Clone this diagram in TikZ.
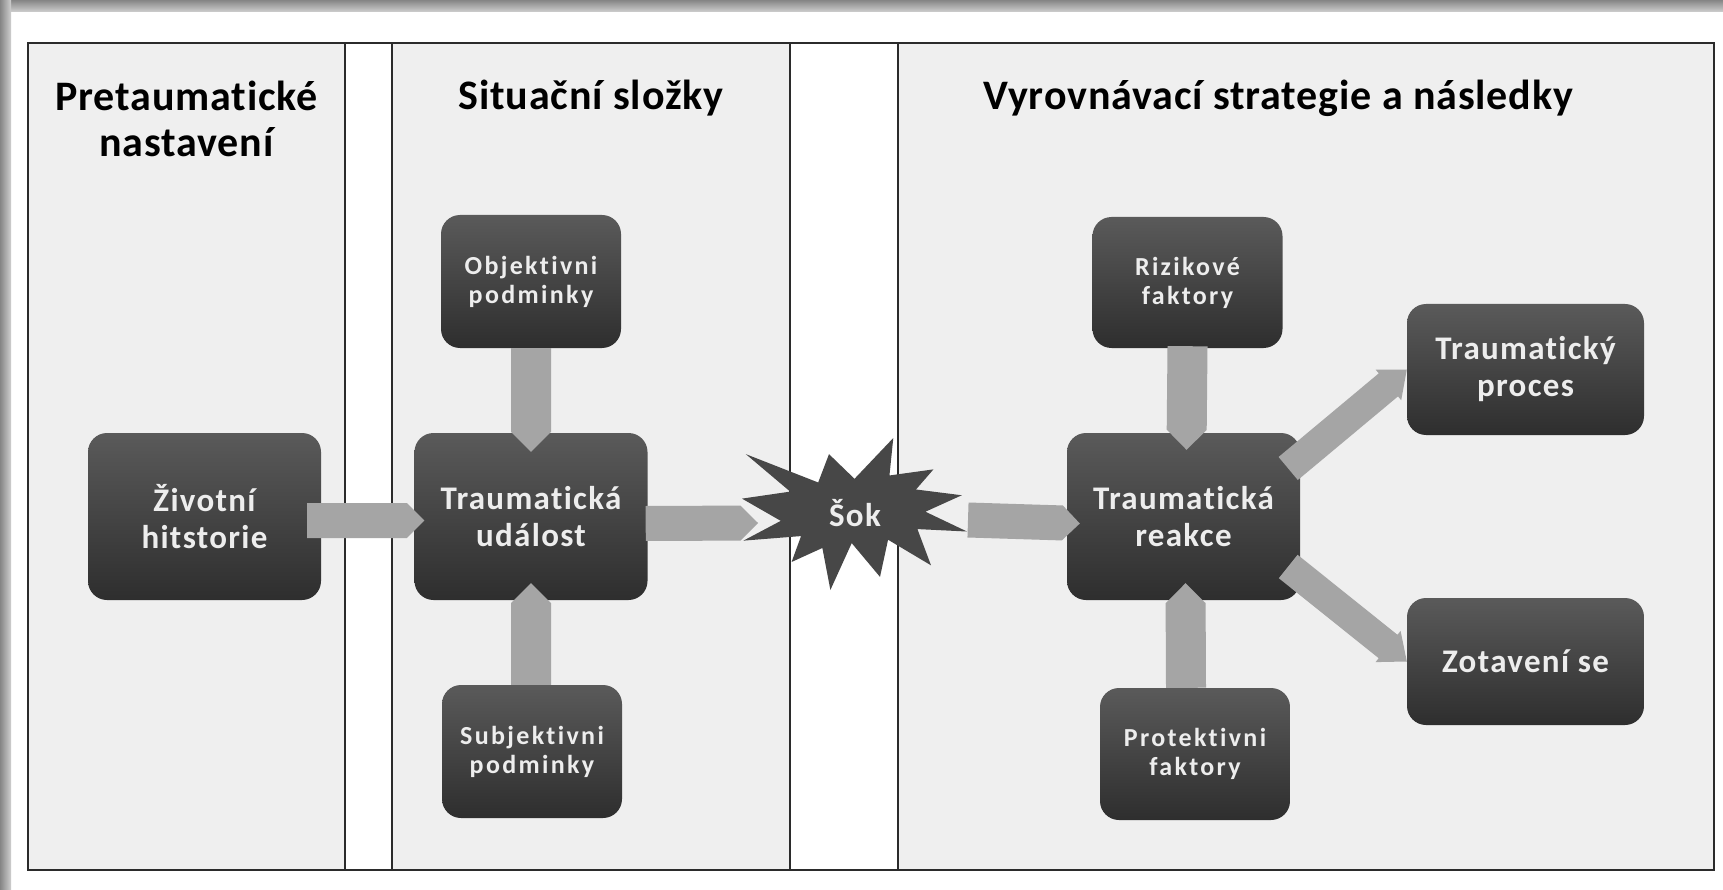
\documentclass[tikz,border=0pt]{standalone}
\usepackage{fontspec}
\setmainfont[Ligatures=NoCommon, LetterSpace=2]{Carlito}
\newfontfamily\bigfont[Ligatures=NoCommon, LetterSpace=4]{Carlito}
\newfontfamily\smallfont[Ligatures=NoCommon, LetterSpace=9]{Carlito}
\usetikzlibrary{calc}
\definecolor{panel}{HTML}{EFEFEF}
\definecolor{frameline}{HTML}{2B2B2B}
\definecolor{boxtop}{HTML}{5A5A5A}
\definecolor{boxbot}{HTML}{2E2E2E}
\definecolor{boxtext}{HTML}{EDEDED}
\definecolor{arrowfill}{HTML}{A5A5A5}
\definecolor{starfill}{HTML}{474747}
\definecolor{shadowdark}{HTML}{858585}
\definecolor{shadowlight}{HTML}{CFCFCF}
\tikzset{
  dbox/.style={rounded corners=19pt, top color=boxtop, bottom color=boxbot, text=boxtext, align=center, inner sep=0pt},
  bigbox/.style={dbox, minimum width=233pt, minimum height=167pt, font=\bigfont\bfseries\fontsize{33}{37}\selectfont},
  smallbox/.style={dbox, minimum width=180pt, minimum height=133pt, font=\smallfont\bfseries\fontsize{26}{29}\selectfont},
  header/.style={font=\bfseries\fontsize{42}{46}\selectfont, align=center, text=black},
  framestroke/.style={draw=frameline, line width=2pt},
}
% block arrow: [half width]{start}{tip}
\newcommand{\barrow}[3][18]{%
  \path ($(#3)!#1pt!(#2)$) coordinate (bh);
  \fill[arrowfill] ($(#2)!#1pt!90:(#3)$) -- ($(bh)!#1pt!90:(#3)$) -- (#3)
    -- ($(bh)!#1pt!-90:(#3)$) -- ($(#2)!#1pt!-90:(#3)$) -- cycle;
}
% flared block arrow: {shaft half width}{head half width}{start}{tip}
\newcommand{\farrow}[4]{%
  \path ($(#4)!24pt!(#3)$) coordinate (bh);
  \fill[arrowfill] ($(#3)!#1pt!90:(#4)$) -- ($(bh)!#1pt!90:(#4)$) -- ($(bh)!#2pt!90:(#4)$) -- (#4)
    -- ($(bh)!#2pt!-90:(#4)$) -- ($(bh)!#1pt!-90:(#4)$) -- ($(#3)!#1pt!-90:(#4)$) -- cycle;
}
\begin{document}
\begin{tikzpicture}[x=1pt,y=-1pt]
\useasboundingbox (0,0) rectangle (1723,890);
\fill[white] (0,0) rectangle (1723,890);
\shade[top color=shadowdark, bottom color=shadowlight] (0,0) rectangle (1723,12);
\shade[left color=shadowdark, right color=shadowlight] (0,0) rectangle (11,890);
% panels
\fill[panel] (28,43) rectangle (345,870);
\fill[panel] (392,43) rectangle (790,870);
\fill[panel] (898,43) rectangle (1714,870);
\draw[framestroke] (28,43) rectangle (1714,870);
\foreach \xx in {345,392,790,898} \draw[framestroke] (\xx,43) -- (\xx,870);
% headers
\node[header] (h1) at (186.5,119) {Pretaumatické\\nastavení};
\node[header] (h2) at (591,98) {Situační složky};
\node[header] (h3) at (1278,98) {Vyrovnávací strategie a následky};
% boxes
\node[bigbox] (ziv) at (204.5,516.5) {Životní\\hitstorie};
\node[bigbox] (udal) at (531,516.5) {Traumatická\\událost};
\node[smallbox] (obj) at (531,281.5) {Objektivni\\podminky};
\node[smallbox] (subj) at (532,751.5) {Subjektivni\\podminky};
\node[bigbox] (reak) at (1183.5,516.5) {Traumatická\\reakce};
\node[smallbox, minimum width=190pt, minimum height=131pt] (riz) at (1187.5,282.5) {Rizikové\\faktory};
\node[smallbox, minimum width=190pt, minimum height=132pt] (prot) at (1195,754) {Protektivni\\faktory};
\node[bigbox, minimum width=237pt, minimum height=131pt] (proc) at (1525.5,369.5) {Traumatický\\proces};
\node[bigbox, minimum width=237pt, minimum height=127pt] (zot) at (1525.5,661.5) {Zotavení se};
% star
\begin{scope}[shift={(742,438)}, xscale=1.0417, yscale=0.7037]
\fill[starfill] (108,58) -- (145.22,0) -- (141.55,53.25) -- (183.80,44.57) -- (167.02,73.15)
  -- (210.97,81.37) -- (176.07,104.75) -- (216,132.90) -- (168.37,129.42) -- (181.45,180.95)
  -- (140.20,144.57) -- (132.47,197.37) -- (105.32,149.35) -- (84.85,216) -- (77.15,156.27)
  -- (47.62,176.17) -- (56.67,139.37) -- (1.35,145.87) -- (37.22,117.75) -- (0,86.15)
  -- (46.27,76.17) -- (3.70,22.95) -- (73.12,63.20) -- (83.52,22.95) -- cycle;
\end{scope}
\node[font=\bigfont\bfseries\fontsize{33}{37}\selectfont, text=boxtext] (sok) at (855,513) {Šok};
% arrow end points
\coordinate (a1s) at ($(ziv.east)+(-14,4)$);
\coordinate (a1e) at ($(udal.west)+(10,4)$);
\coordinate (a2s) at ($(udal.east)+(-2,7)$);
\coordinate (a2e) at ($(sok.center)+(-97,10)$);
\coordinate (a3s) at ($(sok.center)+(113,7)$);
\coordinate (a3e) at ($(reak.west)+(13,7)$);
\coordinate (v1e) at ($(udal.north)+(0,19)$);
\coordinate (v2s) at ($(subj.north)+(-1,0)$);
\coordinate (v2e) at ($(udal.south)+(0,-17)$);
\coordinate (v3s) at ($(riz.south)+(0,-2)$);
\coordinate (v3e) at ($(reak.north)+(3,17)$);
\coordinate (v4s) at ($(prot.north)+(-9,0)$);
\coordinate (v4e) at ($(reak.south)+(2,-17)$);
\coordinate (d1s) at ($(reak.east)+(-12,-48)$);
\coordinate (d2s) at ($(reak.east)+(-12,50)$);
% arrows
\barrow[17.5]{a1s}{a1e}
\barrow[17.5]{a2s}{a2e}
\barrow[17.5]{a3s}{a3e}
\barrow[20]{obj.south}{v1e}
\barrow[20]{v2s}{v2e}
\barrow[20]{v3s}{v3e}
\barrow[20]{v4s}{v4e}
\farrow{15}{20}{d1s}{proc.west}
\farrow{15}{20}{d2s}{zot.west}
\end{tikzpicture}
\end{document}
